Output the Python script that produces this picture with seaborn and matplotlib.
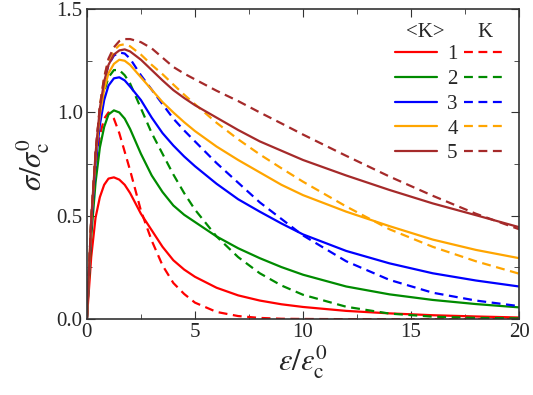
import matplotlib
matplotlib.use("Agg")
import matplotlib.pyplot as plt
import pandas as pd
import seaborn as sns
from matplotlib.lines import Line2D

# strain grid (eps / eps_c^0)
strain = [0, 0.2, 0.4, 0.6, 0.8, 1.0, 1.25, 1.5, 1.75, 2.0, 2.5, 3.0, 3.5, 4.0, 4.5,
          5, 6, 7, 8, 9, 10, 12, 14, 16, 18, 20]

# solid lines: <K> = 1..5
mean_k1 = [0, 0.30, 0.49, 0.59, 0.65, 0.68, 0.686, 0.675, 0.65, 0.61, 0.51, 0.43, 0.35, 0.285, 0.24,
           0.205, 0.152, 0.115, 0.09, 0.072, 0.059, 0.04, 0.028, 0.019, 0.013, 0.008]
mean_k2 = [0, 0.40, 0.66, 0.83, 0.93, 0.99, 1.01, 1.0, 0.97, 0.92, 0.80, 0.695, 0.615, 0.55, 0.505,
           0.47, 0.40, 0.343, 0.295, 0.252, 0.215, 0.158, 0.12, 0.093, 0.073, 0.057]
mean_k3 = [0, 0.45, 0.75, 0.94, 1.06, 1.13, 1.165, 1.17, 1.155, 1.125, 1.06, 0.975, 0.90, 0.84, 0.787,
           0.74, 0.655, 0.58, 0.52, 0.463, 0.41, 0.33, 0.27, 0.222, 0.187, 0.158]
mean_k4 = [0, 0.47, 0.78, 0.99, 1.11, 1.19, 1.235, 1.255, 1.25, 1.23, 1.17, 1.11, 1.05, 1.0, 0.953,
           0.91, 0.835, 0.77, 0.71, 0.65, 0.60, 0.52, 0.45, 0.385, 0.335, 0.295]
mean_k5 = [0, 0.48, 0.80, 1.02, 1.15, 1.23, 1.28, 1.30, 1.305, 1.295, 1.255, 1.205, 1.155, 1.108, 1.07,
           1.035, 0.975, 0.915, 0.86, 0.815, 0.77, 0.695, 0.625, 0.56, 0.503, 0.445]

# dashed lines: K = 1..5
fixed_k1 = [0, 0.44, 0.72, 0.89, 0.97, 1.0, 0.97, 0.90, 0.81, 0.72, 0.525, 0.38, 0.26, 0.175, 0.122,
            0.08, 0.035, 0.015, 0.006, 0.002, 0.001, 0, 0, 0, 0, 0]
fixed_k2 = [0, 0.47, 0.78, 0.98, 1.10, 1.17, 1.205, 1.205, 1.18, 1.14, 1.02, 0.90, 0.80, 0.70, 0.61,
            0.53, 0.40, 0.30, 0.222, 0.163, 0.118, 0.06, 0.027, 0.012, 0.006, 0.004]
fixed_k3 = [0, 0.48, 0.80, 1.02, 1.15, 1.23, 1.275, 1.29, 1.285, 1.26, 1.18, 1.11, 1.04, 0.97, 0.913,
            0.86, 0.755, 0.66, 0.565, 0.485, 0.405, 0.28, 0.19, 0.128, 0.09, 0.063]
fixed_k4 = [0, 0.48, 0.80, 1.03, 1.17, 1.25, 1.30, 1.325, 1.33, 1.32, 1.28, 1.23, 1.185, 1.135, 1.086,
            1.04, 0.95, 0.87, 0.797, 0.73, 0.665, 0.545, 0.435, 0.35, 0.28, 0.22]
fixed_k5 = [0, 0.48, 0.80, 1.03, 1.17, 1.26, 1.315, 1.345, 1.355, 1.355, 1.34, 1.31, 1.265, 1.22, 1.188,
            1.16, 1.105, 1.055, 1.0, 0.947, 0.893, 0.79, 0.69, 0.597, 0.51, 0.435]

k_values = [1, 2, 3, 4, 5]
colors = ['#ff0000', '#008b00', '#0000ff', '#ffa500', '#a52a2a']

mean_curves = [mean_k1, mean_k2, mean_k3, mean_k4, mean_k5]
fixed_curves = [fixed_k1, fixed_k2, fixed_k3, fixed_k4, fixed_k5]

rows = []
for k, ys in zip(k_values, mean_curves):
    for x, y in zip(strain, ys):
        rows.append({'strain': x, 'stress': y, 'k': k, 'kind': 'mean'})
for k, ys in zip(k_values, fixed_curves):
    for x, y in zip(strain, ys):
        rows.append({'strain': x, 'stress': y, 'k': k, 'kind': 'fixed'})
df = pd.DataFrame(rows)

sns.set_style("ticks")
plt.rcParams['font.family'] = 'serif'
plt.rcParams['font.serif'] = ['Liberation Serif', 'DejaVu Serif']
plt.rcParams['mathtext.fontset'] = 'stix'

fig = plt.figure(figsize=(5.33, 3.95), dpi=100)
ax = fig.add_axes([0.163, 0.192, 0.811, 0.785])

palette = dict(zip(k_values, colors))
sns.lineplot(data=df, x='strain', y='stress', hue='k', style='kind',
             palette=palette, dashes={'mean': '', 'fixed': (4, 2.5)},
             linewidth=1.6, estimator=None, sort=False, legend=False, ax=ax)

ax.set_xlim(0, 20)
ax.set_ylim(0, 1.5)
ax.set_xticks([0, 5, 10, 15, 20])
ax.set_xticks([2.5, 7.5, 12.5, 17.5], minor=True)
ax.set_yticks([0, 0.5, 1.0, 1.5])
ax.set_yticks([0.25, 0.75, 1.25], minor=True)
ax.set_yticklabels(['0.0', '0.5', '1.0', '1.5'])
ax.tick_params(which='both', direction='in', top=True, right=True, labelsize=15,
               color='#333333')
ax.tick_params(axis='x', pad=3)
ax.tick_params(axis='y', pad=3)
ax.tick_params(which='major', length=6)
ax.tick_params(which='minor', length=3.5)
for s in ax.spines.values():
    s.set_color('#333333')
    s.set_linewidth(1.2)

ax.set_xlabel(r'$\varepsilon/\varepsilon_{\rm c}^{0}$', fontsize=22, labelpad=1)
ax.set_ylabel(r'$\sigma/\sigma_{\rm c}^{0}$', fontsize=22, labelpad=3)

solid_handles = [Line2D([], [], color=c, lw=1.6) for c in colors]
dashed_handles = [Line2D([], [], color=c, lw=1.6, dashes=(4, 2.5)) for c in colors]
leg = ax.legend(solid_handles + dashed_handles,
                [str(k) for k in k_values] + [''] * 5,
                ncol=2, frameon=False, fontsize=15, loc='upper left',
                bbox_to_anchor=(0.713, 0.885), borderaxespad=0, borderpad=0,
                handlelength=2.0, handletextpad=0.5, columnspacing=0.3,
                labelspacing=0.25)
ax.text(0.782, 0.925, '<K>', transform=ax.transAxes, ha='center', va='center', fontsize=15)
ax.text(0.921, 0.925, 'K', transform=ax.transAxes, ha='center', va='center', fontsize=15)

fig.savefig('out.png', dpi=100)
